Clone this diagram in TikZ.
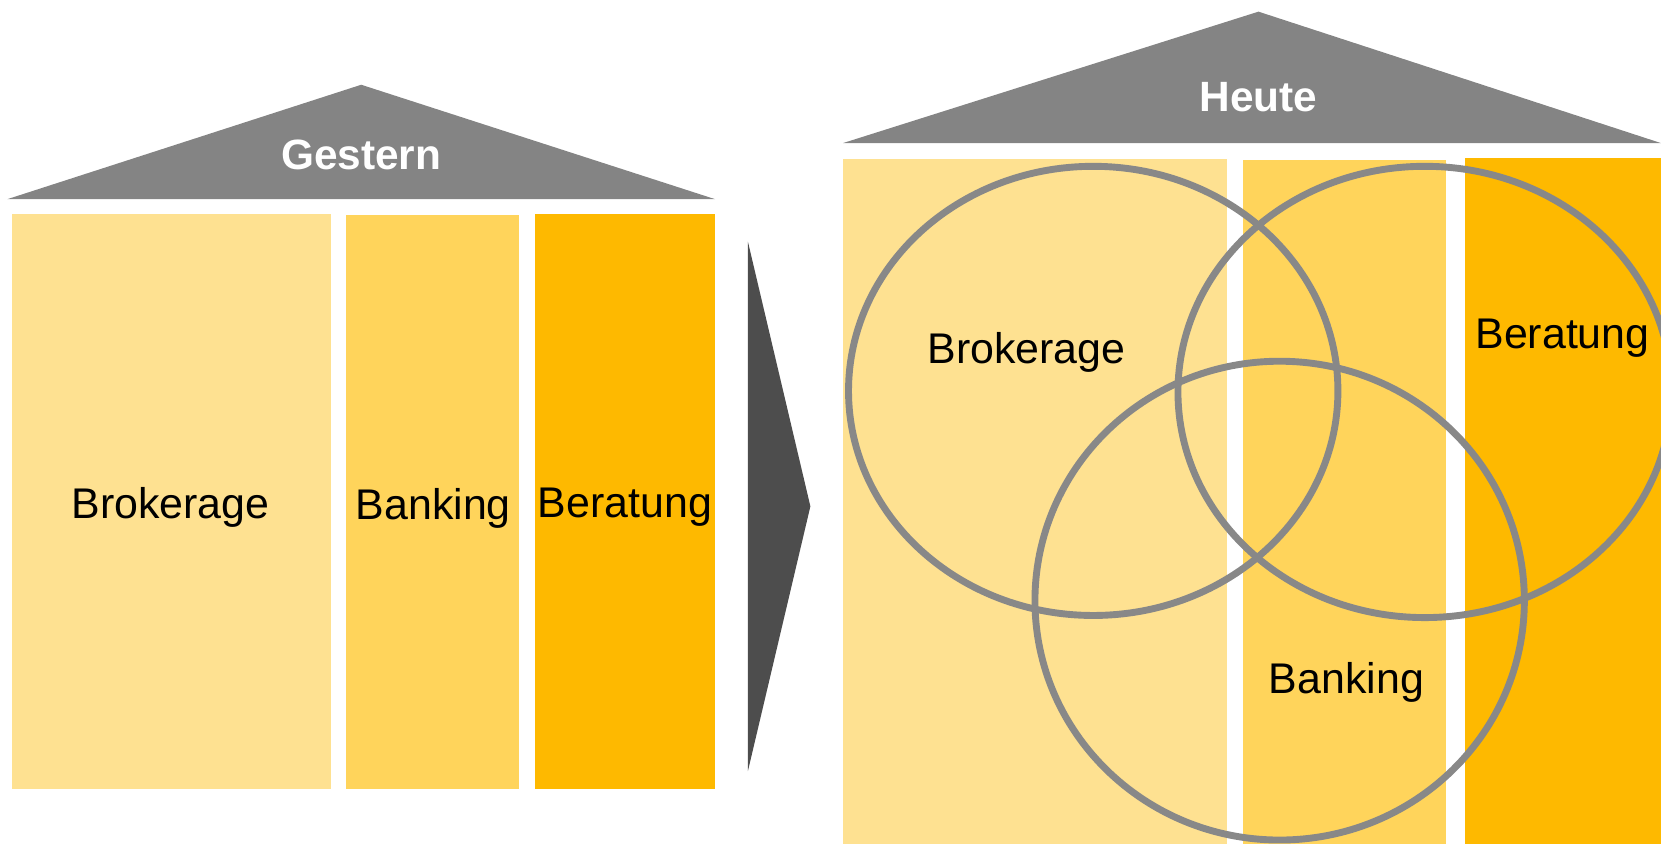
\documentclass[tikz,border=0pt]{standalone}
\usepackage{fontspec}
\setmainfont{Liberation Sans}
\definecolor{colA}{HTML}{FEE191}
\definecolor{colB}{HTML}{FFD45B}
\definecolor{colC}{HTML}{FEB900}
\definecolor{roofgray}{HTML}{848484}
\definecolor{arrowgray}{HTML}{4D4D4D}
\definecolor{ringgray}{HTML}{888888}
\tikzset{
  roof/.style={fill=roofgray, draw=none},
  label/.style={font=\fontsize{40.5}{47}\selectfont, text=black, inner sep=0pt},
  rooflabel/.style={font=\fontsize{40}{46}\selectfont\bfseries, text=white, inner sep=0pt},
  ring/.style={draw=ringgray, line width=6.5pt}
}
\begin{document}
\begin{tikzpicture}[x=1pt,y=-1pt]
\useasboundingbox (0,0) rectangle (1568,797);
% left house
\fill[roof] (7,188) -- (341,80) -- (675,188) -- cycle;
\node[rooflabel] (gestern) at (341,146) {Gestern};
\fill[colA] (11,202) rectangle (312,745);
\fill[colB] (327,203) rectangle (490,745);
\fill[colC] (505,202) rectangle (675,745);
\node[label] (lbro) at (161,479) {Brokerage};
\node[label] (lban) at (409,480) {Banking};
\node[label] (lber) at (590,479) {Beratung};
% arrow
\fill[arrowgray] (706,228) -- (765,478) -- (706,728) -- cycle;
% right house
\fill[roof] (796,135) -- (1188,11) -- (1580,139) -- (1580,135) -- cycle;
\node[rooflabel] (heute) at (1188,92) {Heute};
\fill[colA] (796,150) rectangle (1158,797);
\fill[colB] (1173,151) rectangle (1365,797);
\fill[colC] (1383,149) rectangle (1570,797);
\draw[ring] (1032,369) ellipse [x radius=231, y radius=212];
\draw[ring] (1345,370) ellipse [x radius=233, y radius=213];
\draw[ring] (1208,567) ellipse [x radius=231, y radius=226];
\node[label] (rbro) at (969,333) {Brokerage};
\node[label] (rber) at (1475,319) {Beratung};
\node[label] (rban) at (1271,644) {Banking};
\end{tikzpicture}
\end{document}
